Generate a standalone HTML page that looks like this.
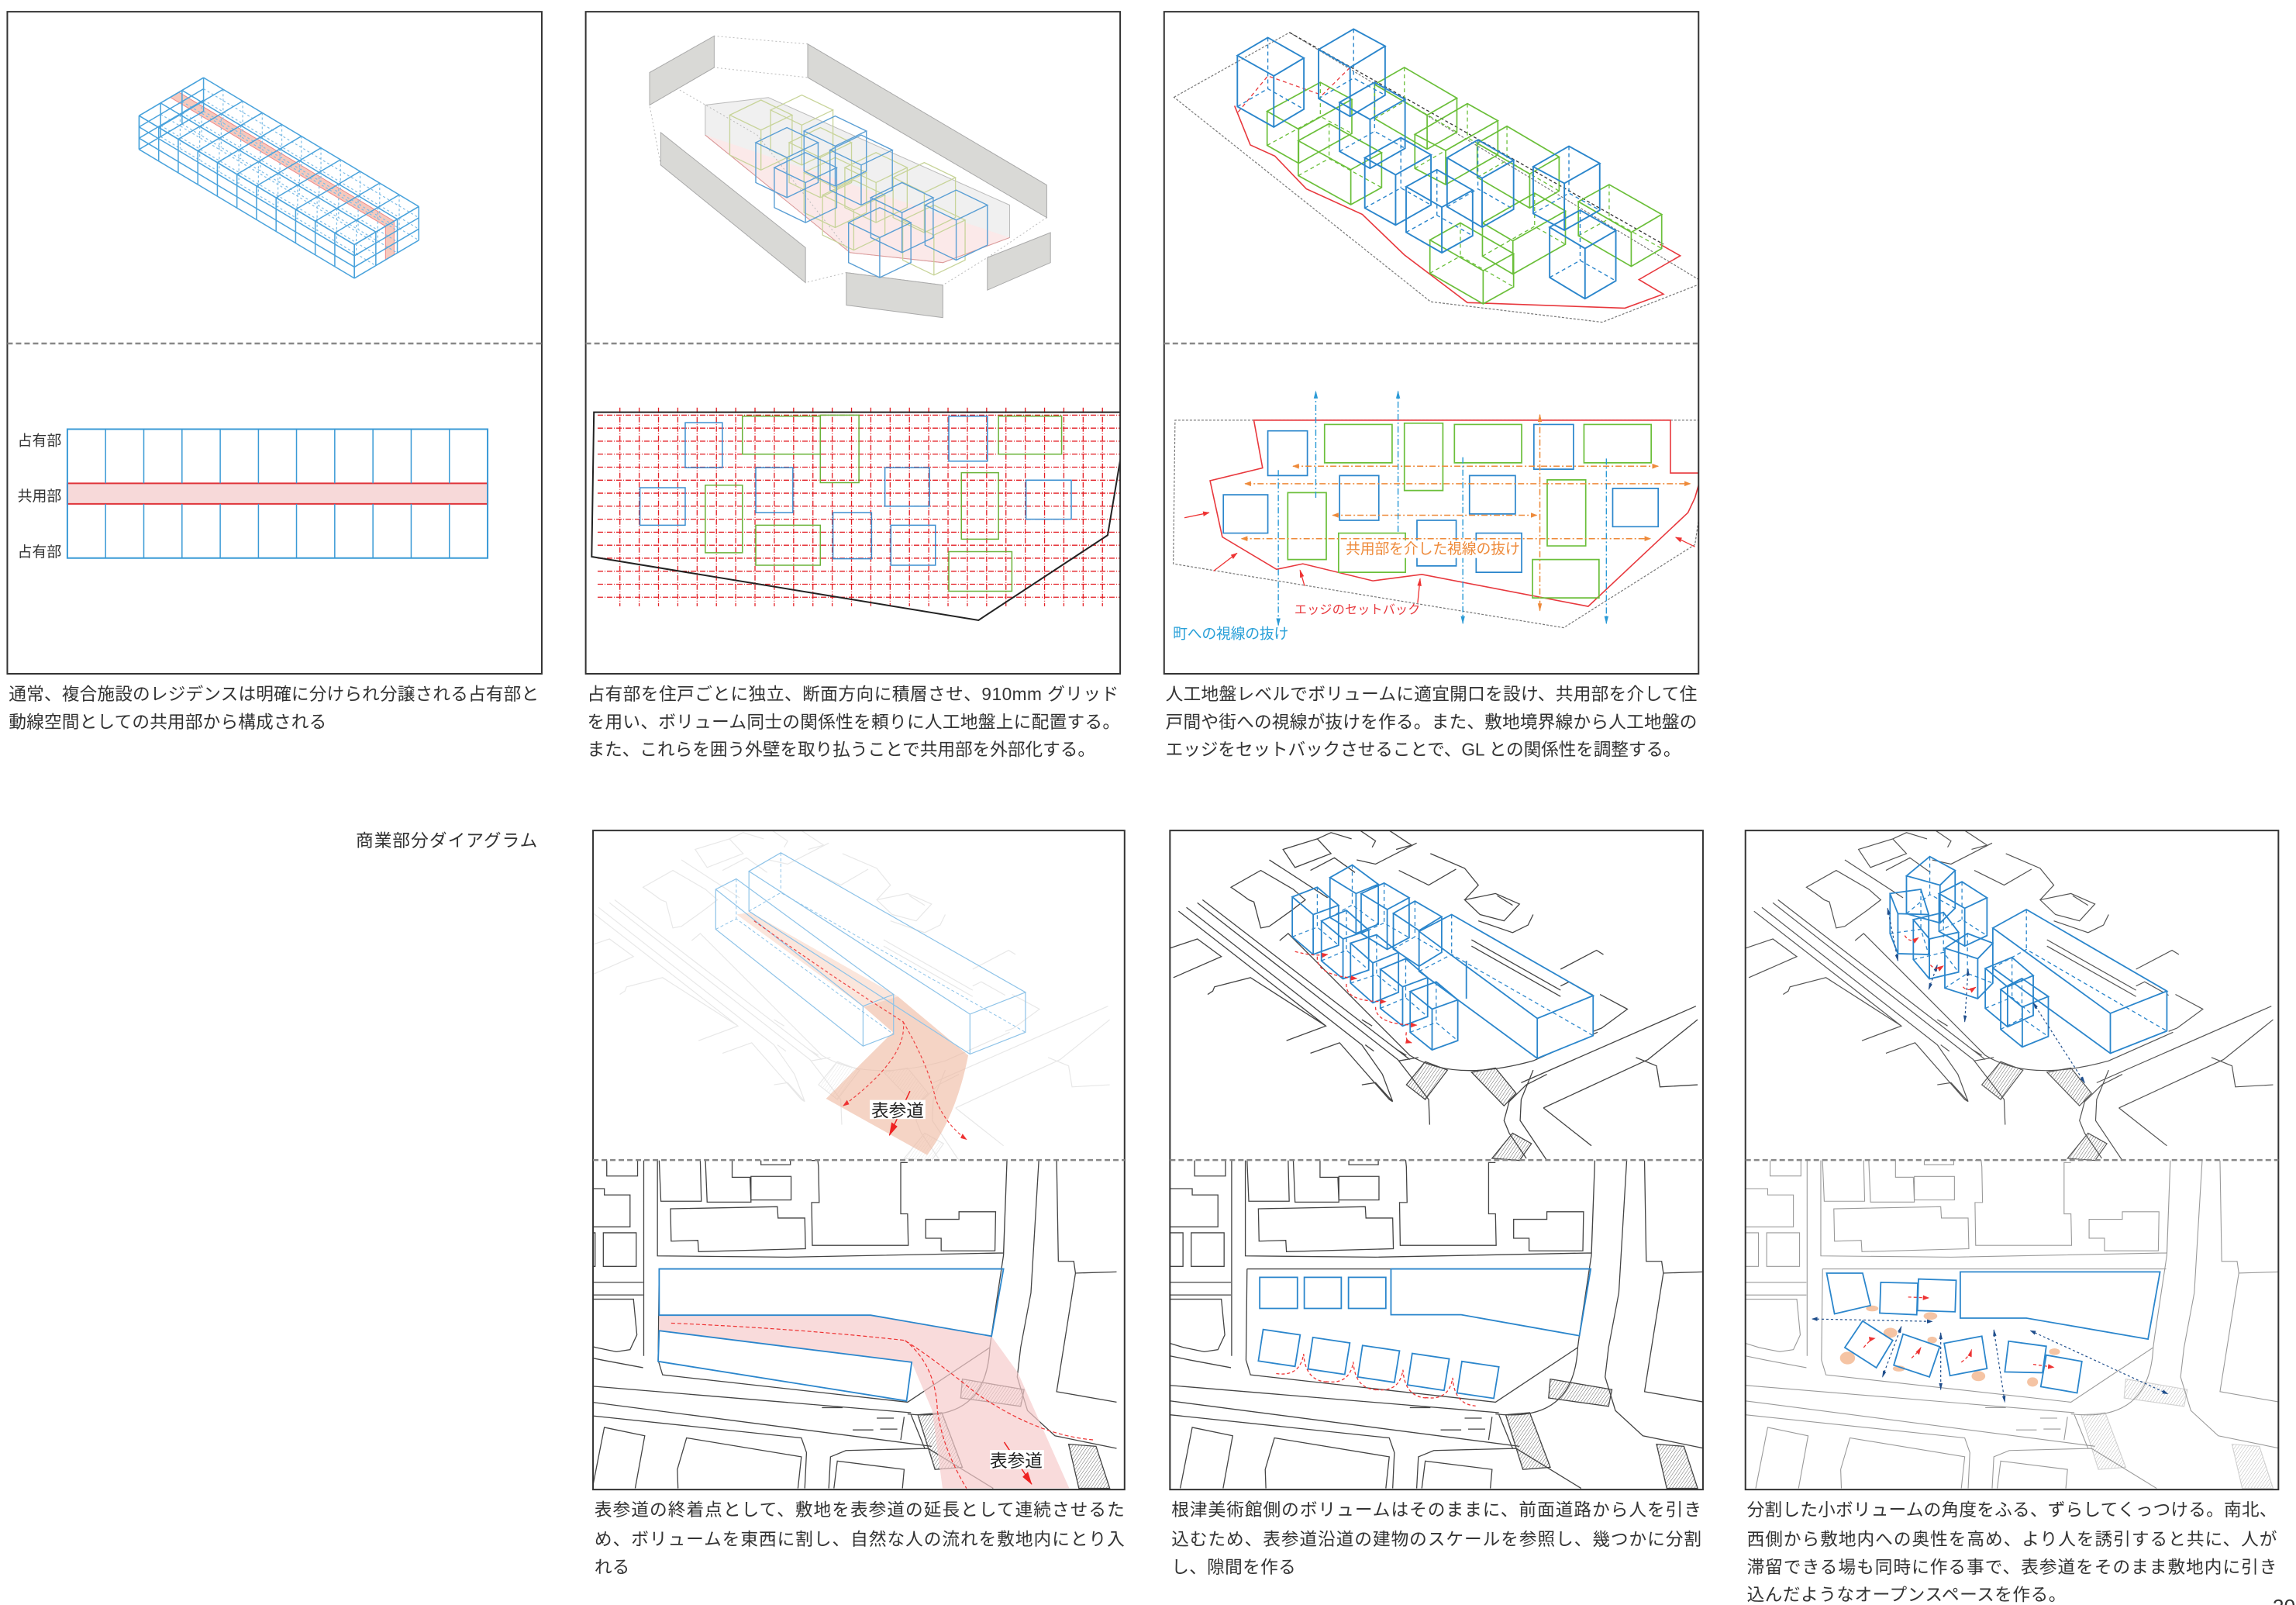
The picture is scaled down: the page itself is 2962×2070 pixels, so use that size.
<!DOCTYPE html>
<html><head><meta charset="utf-8">
<style>
html,body{margin:0;padding:0;background:#fff;}
svg{display:block;}
path,line,rect,ellipse,polygon{vector-effect:non-scaling-stroke;}
text{font-family:"Liberation Sans","Noto Sans CJK JP",sans-serif;}
</style></head>
<body>
<svg xmlns="http://www.w3.org/2000/svg" xmlns:xlink="http://www.w3.org/1999/xlink" width="2962" height="2070" viewBox="0 0 1568 1095.8" preserveAspectRatio="none">
<defs>
<pattern id="hatch" patternUnits="userSpaceOnUse" width="7" height="7" patternTransform="rotate(40)"><line x1="0" y1="0" x2="0" y2="7" stroke="#333" stroke-width="3"/></pattern>
<marker id="mO" markerUnits="userSpaceOnUse" markerWidth="20" markerHeight="20" refX="17" refY="10" orient="auto"><path d="M0,4 L19,10 L0,16Z" fill="#ee8a3a"/></marker>
<marker id="mOs" markerUnits="userSpaceOnUse" markerWidth="20" markerHeight="20" refX="2" refY="10" orient="auto"><path d="M19,4 L0,10 L19,16Z" fill="#ee8a3a"/></marker>
<marker id="mB" markerUnits="userSpaceOnUse" markerWidth="20" markerHeight="20" refX="17" refY="10" orient="auto"><path d="M0,4 L19,10 L0,16Z" fill="#2a9ad6"/></marker>
<marker id="mR" markerUnits="userSpaceOnUse" markerWidth="20" markerHeight="20" refX="17" refY="10" orient="auto"><path d="M0,4 L19,10 L0,16Z" fill="#e33"/></marker>
<marker id="mRb" markerUnits="userSpaceOnUse" markerWidth="34" markerHeight="34" refX="30" refY="17" orient="auto"><path d="M0,7 L32,17 L0,27Z" fill="#e22"/></marker>
<marker id="mD" markerUnits="userSpaceOnUse" markerWidth="18" markerHeight="18" refX="15" refY="9" orient="auto"><path d="M0,4 L17,9 L0,14Z" fill="#1f4e8c"/></marker>
<marker id="mDs" markerUnits="userSpaceOnUse" markerWidth="18" markerHeight="18" refX="2" refY="9" orient="auto"><path d="M17,4 L0,9 L17,14Z" fill="#1f4e8c"/></marker>
<clipPath id="c1"><rect x="5" y="8" width="365" height="452"/></clipPath>
<clipPath id="c2"><rect x="400" y="8" width="365" height="452"/></clipPath>
<clipPath id="c3"><rect x="795" y="8" width="365" height="452"/></clipPath>
<clipPath id="c4"><rect x="405" y="567" width="363" height="450"/></clipPath>
<clipPath id="c5"><rect x="799" y="567" width="364" height="450"/></clipPath>
<clipPath id="c6"><rect x="1192" y="567" width="364" height="450"/></clipPath>

<path id="planL" vector-effect="non-scaling-stroke" fill="none" d="M72,785L72,822L162,822L162,785M0,852L65,852L65,867L140,867L140,943L0,943M0,957L38,957L38,1037L0,1037M62,957L158,957L158,1037L62,1037ZM225,785L230,882L348,882L345,785M360,785L365,884L493,884L490,825L438,825L438,785M493,823L610,823L610,879L493,879ZM522,785L522,795L608,795L608,785M258,900L570,895L572,922L650,922L652,995L340,1002L338,975L260,977ZM670,785L688,785L690,800L692,885L670,885L672,987L952,987L950,912L930,912L930,790L950,790M1003,925L1100,925L1100,907L1207,907L1205,1000L1048,1000L1048,970L1003,970ZM220,785L220,1012L600,1015L1230,1005L1240,785M180,785L180,1250M0,1075L178,1075M0,1105L178,1105M0,1115L150,1115L160,1200L140,1235L100,1240L40,1230L0,1220M0,1250L60,1260L178,1278M225,1043L1228,1043M225,1043L222,1260L235,1295L950,1360L1190,1230M1333,785L1310,1100L1280,1230L1270,1300L1300,1380L1380,1440L1560,1470M1385,785L1390,1025L1435,1025L1440,1053L1560,1050M1440,1053L1385,1335L1560,1360M0,1320L960,1385M0,1357L1020,1465M0,1390L640,1445L655,1480L650,1565M720,1565L725,1490L770,1475L1010,1470L1200,1565M30,1565L65,1420L183,1440L155,1565M280,1565L278,1520L305,1445L640,1490L630,1565M735,1565L745,1500L940,1520L935,1565M940,1395L930,1450M960,1390L1000,1470M950,1388Q1180,1410 1190,1230M1240,785L1230,1010L1195,1200L1190,1230M700,1373l60,0M790,1426l60,0M860,1398l50,0M870,1424l50,0"/>
<path id="planH" fill="url(#hatch)" d="M1110,1305L1290,1330L1280,1370L1105,1350ZM980,1390L1050,1385L1110,1515L1030,1520ZM1420,1460L1500,1465L1540,1565L1450,1565Z"/>
<path id="isoL" vector-effect="non-scaling-stroke" fill="none" d="M0,280L80,258L150,300L10,350M110,390L125,382L130,372L235,350L455,465L340,500M25,192L455,465M48,183L560,510L620,580L650,645M80,172L665,545L755,640L758,700M95,165L700,545M178,135L265,95L360,140L395,165L355,190L290,228L265,232L245,170L230,165L205,150ZM290,70L460,160M330,45L430,20L470,55L365,88ZM410,95L480,65L540,100M430,20L470,5L530,20M555,0L600,25L590,40M640,0L705,35L660,45M668,95L755,130L835,92M720,30L600,80L545,70M760,55L860,90L900,130L860,165M860,165L950,150L1020,175L975,215L905,200ZM955,155L1000,178M900,215L1000,243L1045,225L1060,200M1140,330L1245,285L1265,295M1140,370L1165,360L1235,392M1255,390L1335,425L1260,470L1235,478M1025,600L1535,418M1090,660L1395,545L1540,450M1090,660L1230,750M1360,540L1420,560L1430,610L1540,605M1100,580L1040,605L990,645L975,690L990,720L1040,780M1060,570L1025,640L1022,690L1100,785M410,530L495,505L640,640L650,645M560,605L600,600L650,645M668,548L725,540M880,260L1140,380M880,275L1140,395M320,262L345,245L700,535Q830,600 1060,548L1248,480M560,450l30,15M660,520l30,15M570,510l25,15"/>
<path id="isoH" fill="url(#hatch)" d="M690,605L745,550L810,570L745,640ZM880,575L950,565L1010,625L975,655ZM940,780L1000,720L1055,745L1020,785Z"/>
</defs>

<!-- ========== Panel 1 ========== -->
<g clip-path="url(#c1)">
 <g transform="matrix(13.364,8,14.667,-8.667,95,79)"><rect x="0" y="1.45" width="11" height="0.4" fill="#f6c9bd" stroke="#e88" stroke-width="1"/></g>
 <g transform="matrix(14.667,-8.667,0,7.667,242,167)"><rect x="1.45" y="0" width="0.4" height="3" fill="#f6c9bd" stroke="#e88" stroke-width="1"/></g>
 <g fill="none" stroke="#7fbde6" stroke-width="1.2" stroke-dasharray="3,3">
  <path transform="matrix(13.364,8,0,7.667,139,53)" d="M0,0V3M1,0V3M2,0V3M3,0V3M4,0V3M5,0V3M6,0V3M7,0V3M8,0V3M9,0V3M10,0V3M11,0V3M0,0H11M0,1H11M0,2H11M0,3H11"/>
  <path transform="matrix(13.364,8,0,7.667,109.667,70.333)" d="M0,0V3M1,0V3M2,0V3M3,0V3M4,0V3M5,0V3M6,0V3M7,0V3M8,0V3M9,0V3M10,0V3M11,0V3M0,1H11M0,2H11M0,3H11"/>
  <path transform="matrix(13.364,8,0,7.667,124.333,61.667)" d="M0,0V3M1,0V3M2,0V3M3,0V3M4,0V3M5,0V3M6,0V3M7,0V3M8,0V3M9,0V3M10,0V3M11,0V3M0,1H11M0,2H11M0,3H11"/>
 </g>
 <g fill="none" stroke="#4aa3dc" stroke-width="1.5">
  <path transform="matrix(13.364,8,14.667,-8.667,95,79)" d="M0,0V3M1,0V3M2,0V3M3,0V3M4,0V3M5,0V3M6,0V3M7,0V3M8,0V3M9,0V3M10,0V3M11,0V3M0,0H11M0,1H11M0,2H11M0,3H11"/>
  <path transform="matrix(13.364,8,0,7.667,95,79)" d="M0,0V3M1,0V3M2,0V3M3,0V3M4,0V3M5,0V3M6,0V3M7,0V3M8,0V3M9,0V3M10,0V3M11,0V3M0,0H11M0,1H11M0,2H11M0,3H11"/>
  <path transform="matrix(14.667,-8.667,0,7.667,242,167)" d="M0,0V3M1,0V3M2,0V3M3,0V3M0,0H3M0,1H3M0,2H3M0,3H3"/>
  <path transform="matrix(14.667,-8.667,0,7.667,95,79)" d="M0,0V3M1,0V3M2,0V3M3,0V3M0,0H3M0,1H3M0,2H3M0,3H3"/>
 </g>
 <rect x="46" y="330" width="287" height="14" fill="#f7d9d9" stroke="#e0343a" stroke-width="2"/>
 <rect x="46" y="293" width="287" height="88" fill="none" stroke="#3a9ad6" stroke-width="2"/>
 <path fill="none" stroke="#3a9ad6" stroke-width="1.5" d="M72.1,293V330M98.2,293V330M124.3,293V330M150.4,293V330M176.5,293V330M202.5,293V330M228.6,293V330M254.7,293V330M280.8,293V330M306.9,293V330M72.1,344V381M98.2,344V381M124.3,344V381M150.4,344V381M176.5,344V381M202.5,344V381M228.6,344V381M254.7,344V381M280.8,344V381M306.9,344V381"/>
</g>

<!-- ========== Panel 2 ========== -->
<g clip-path="url(#c2)"><g transform="scale(0.507,0.3415)">
 <path d="M950,270L1145,505L1270,525L1360,475L1360,410L1035,195L950,210Z" fill="#f0f0f0" stroke="#bbb" stroke-width="1"/>
 <path d="M950,270L1145,505L1270,525L1360,475" fill="#fbe9e9" stroke="#d99" stroke-width="1"/>
 <path fill="none" stroke="#bbb" stroke-width="1" stroke-dasharray="2,3" d="M875,210L962,135L1088,155L1410,435L1330,515L1270,570L1140,545L1085,565L890,330L875,210M875,145L962,72L1088,88L1410,370M875,145L1020,270L1145,505"/>
 <g fill="#d9d9d6" stroke="#aaa" stroke-width="1">
  <path d="M875,145L962,72L962,135L875,210Z"/><path d="M1088,88L1410,370L1410,435L1088,155Z"/><path d="M890,265L1085,495L1085,565L890,330Z"/><path d="M1140,545L1270,570L1270,635L1140,610Z"/><path d="M1330,515L1415,465L1415,525L1330,580Z"/>
 </g>
 <path fill="none" stroke="#c8d49a" stroke-width="1.3" d="M983,230l42,-30l42,30l-42,30zv80l42,30l42,-30v-80m-42,30v80M1038,220l42,-30l42,30l-42,30zv80l42,30l42,-30v-80m-42,30v80M1063,285l42,-30l42,30l-42,30zv80l42,30l42,-30v-80m-42,30v80M1108,390l42,-30l42,30l-42,30zv80l42,30l42,-30v-80m-42,30v80M1138,335l42,-30l42,30l-42,30zv80l42,30l42,-30v-80m-42,30v80M1203,355l42,-30l42,30l-42,30zv80l42,30l42,-30v-80m-42,30v80M1216,440l42,-30l42,30l-42,30zv80l42,30l42,-30v-80m-42,30v80M1083,345l42,-30l42,30l-42,30zv80l42,30l42,-30v-80m-42,30v80"/>
 <path fill="none" stroke="#5b9fd4" stroke-width="1.4" d="M1018,285l42,-30l42,30l-42,30zv80l42,30l42,-30v-80m-42,30v80M1043,335l42,-30l42,30l-42,30zv80l42,30l42,-30v-80m-42,30v80M1083,262l42,-30l42,30l-42,30zv80l42,30l42,-30v-80m-42,30v80M1118,300l42,-30l42,30l-42,30zv80l42,30l42,-30v-80m-42,30v80M1143,445l42,-30l42,30l-42,30zv80l42,30l42,-30v-80m-42,30v80M1173,395l42,-30l42,30l-42,30zv80l42,30l42,-30v-80m-42,30v80M1246,410l42,-30l42,30l-42,30zv80l42,30l42,-30v-80m-42,30v80"/>
 <path fill="none" stroke="#e31e24" stroke-width="1.3" stroke-dasharray="7,2,1,2" d="M805,830H1510M805,856H1510M805,882H1510M805,908H1510M805,934H1510M805,960H1510M805,986H1510M805,1012H1510M805,1038H1510M805,1064H1510M805,1090H1510M805,1116H1510M805,1142H1510M805,1168H1510M805,1194H1510M835,815V1212M861,815V1212M887,815V1212M913,815V1212M939,815V1212M965,815V1212M991,815V1212M1017,815V1212M1043,815V1212M1069,815V1212M1095,815V1212M1121,815V1212M1147,815V1212M1173,815V1212M1199,815V1212M1225,815V1212M1251,815V1212M1277,815V1212M1303,815V1212M1329,815V1212M1355,815V1212M1381,815V1212M1407,815V1212M1433,815V1212M1459,815V1212M1485,815V1212"/>
 <g fill="none" stroke="#3b8fd0" stroke-width="1.5">
  <rect x="923" y="845" width="50" height="90"/><rect x="862" y="975" width="61" height="75"/><rect x="1018" y="935" width="50" height="90"/><rect x="1122" y="1025" width="52" height="92"/><rect x="1200" y="1050" width="60" height="80"/><rect x="1278" y="832" width="52" height="90"/><rect x="1382" y="960" width="61" height="78"/><rect x="1192" y="935" width="60" height="77"/>
 </g>
 <g fill="none" stroke="#6bb33a" stroke-width="1.5">
  <rect x="1000" y="832" width="105" height="76"/><rect x="1105" y="830" width="52" height="135"/><rect x="950" y="970" width="50" height="135"/><rect x="1018" y="1050" width="87" height="80"/><rect x="1295" y="945" width="50" height="133"/><rect x="1278" y="1103" width="85" height="79"/><rect x="1345" y="832" width="85" height="76"/>
 </g>
 <path fill="none" stroke="#222" stroke-width="2" d="M800,824L1510,824L1510,910L1492,1070L1318,1240L797,1113Z"/>
</g></g>

<!-- ========== Panel 3 ========== -->
<g clip-path="url(#c3)"><g transform="translate(794.1,5.3) scale(0.2391,0.2909)">
 <path fill="none" stroke="#777" stroke-width="1.2" stroke-dasharray="3,2" d="M32,210L362,58L1545,645L1255,738L765,690Z"/>
 <path fill="none" stroke="#e8383d" stroke-width="1.6" d="M205,230L250,322L320,348L410,425L570,485L690,580L870,692L1320,705L1430,672L1360,638L1478,582L1420,555"/>
 <path fill="none" stroke="#e8383d" stroke-width="1.3" stroke-dasharray="5,4" d="M215,245L300,160L455,205L535,140"/>
 <path fill="none" stroke="#333" stroke-width="1.3" stroke-dasharray="4,3" d="M362,58L1430,555"/>
 <path fill="none" stroke="#6bbf3a" stroke-width="1.7" d="M298,243L450,175L540,215L388,285ZM298,243v80l90,42l152,-70v-80M388,285v80M387,312L475,272L625,340L537,380ZM387,312v82l150,68l88,-40v-82M537,380v82M605,180L690,140L840,212L755,252ZM605,180v80l150,72l85,-40v-80M755,252v80M720,297L870,225L957,265L808,335ZM720,297v80l88,38l149,-70v-80M808,335v80M898,318L983,278L1132,350L1048,390ZM898,318v80l150,72l84,-40v-80M1048,390v80M763,545L850,505L1002,577L915,617ZM763,545v78l152,72l87,-40v-78M915,617v78M913,505L1062,435L1150,477L1000,547ZM913,505v78l87,42l150,-70v-78M1000,547v78M1187,455L1275,415L1425,485L1338,527ZM1187,455v80l151,72l87,-42v-80M1338,527v80"/>
 <path fill="none" stroke="#6bbf3a" stroke-width="1.3" stroke-dasharray="5,4" d="M298,323l152,-68l90,40M450,175v80M387,394l88,-40l150,68M475,272v82M605,260l85,-40l150,72M690,140v80M720,377l150,-72l87,40M870,225v80M898,398l85,-40l149,72M983,278v80M763,623l87,-40l152,72M850,505v78M913,583l149,-70l88,42M1062,435v78M1187,535l88,-40l150,70M1275,415v80"/>
 <path fill="none" stroke="#2b86cc" stroke-width="1.9" d="M213,112L300,70L403,118L317,160ZM213,112v120l104,48l86,-42v-120M317,160v120M445,98L545,50L635,90L535,140ZM445,98v115l90,42l100,-50v-115M535,140v115M505,222L605,175L692,215L592,262ZM505,222v115l87,40l100,-47v-115M592,262v115M577,352L680,305L766,345L665,392ZM577,352v118l88,40l101,-47v-118M665,392v118M695,420L783,380L885,428L797,468ZM695,420v107l102,48l88,-40v-107M797,468v107M812,352L900,310L1002,358L912,400ZM812,352v115l100,48l90,-42v-115M912,400v115M1058,373L1160,325L1248,365L1147,412ZM1058,373v110l89,39l101,-47v-110M1147,412v110M1105,515L1192,475L1294,523L1206,565ZM1105,515v118l101,50l88,-42v-118M1206,565v118"/>
 <path fill="none" stroke="#2b86cc" stroke-width="1.4" stroke-dasharray="5,4" d="M213,232l87,-42l103,48M300,70v120M445,213l100,-48l90,40M545,50v115M505,337l100,-47l87,40M605,175v115M577,470l103,-47l86,40M680,305v118M695,527l88,-40l102,48M783,380v107M812,467l88,-42l102,48M900,310v115M1058,483l102,-48l88,40M1160,325v110M1105,633l87,-40l102,48M1192,475v118"/>
 <path fill="none" stroke="#777" stroke-width="1.2" stroke-dasharray="3,2" d="M1545,968L35,968L30,1305L1145,1455L1520,1260L1545,1120"/>
 <path fill="none" stroke="#e8383d" stroke-width="1.6" d="M260,968L1450,968L1450,1092L1540,1092L1520,1150L1500,1185L1215,1405L740,1330L600,1345L400,1305L325,1318L170,1242L135,1110L285,1080Z"/>
 <g fill="none" stroke="#2b86cc" stroke-width="1.7">
  <rect x="300" y="993" width="113" height="105"/><rect x="505" y="1098" width="112" height="105"/><rect x="173" y="1143" width="127" height="90"/><rect x="876" y="1098" width="131" height="90"/><rect x="726" y="1203" width="112" height="107"/><rect x="895" y="1233" width="130" height="92"/><rect x="1060" y="978" width="113" height="105"/><rect x="1285" y="1128" width="130" height="90"/>
 </g>
 <g fill="none" stroke="#6bbf3a" stroke-width="1.7">
  <rect x="462" y="978" width="193" height="90"/><rect x="690" y="975" width="110" height="158"/><rect x="833" y="978" width="192" height="90"/><rect x="1203" y="978" width="192" height="90"/><rect x="357" y="1138" width="110" height="157"/><rect x="502" y="1233" width="191" height="92"/><rect x="1098" y="1108" width="110" height="155"/><rect x="1056" y="1295" width="190" height="90"/>
 </g>
 <g stroke="#ee8a3a" stroke-width="1.5" stroke-dasharray="8,3,2,3" marker-end="url(#mO)" marker-start="url(#mOs)">
  <line x1="372" y1="1076" x2="1415" y2="1076"/><line x1="235" y1="1117" x2="1507" y2="1117"/><line x1="485" y1="1191" x2="1068" y2="1191"/><line x1="225" y1="1246" x2="1393" y2="1246"/><line x1="1077" y1="955" x2="1077" y2="1415"/>
 </g>
 <g stroke="#2a9ad6" stroke-width="1.4" stroke-dasharray="8,3,2,3" marker-end="url(#mB)">
  <line x1="437" y1="1150" x2="437" y2="900"/><line x1="672" y1="1230" x2="672" y2="900"/><line x1="330" y1="1085" x2="330" y2="1450"/><line x1="857" y1="1055" x2="857" y2="1445"/><line x1="1267" y1="1058" x2="1267" y2="1445"/>
 </g>
 <g stroke="#e33" stroke-width="1.3" marker-end="url(#mR)">
  <line x1="62" y1="1197" x2="132" y2="1185"/><line x1="145" y1="1322" x2="212" y2="1280"/><line x1="405" y1="1357" x2="392" y2="1320"/><line x1="728" y1="1397" x2="735" y2="1340"/><line x1="1520" y1="1265" x2="1465" y2="1243"/>
 </g>
</g></g>

<!-- ========== Panel 4 ========== -->
<g clip-path="url(#c4)"><g transform="translate(405,567) scale(0.234,0.287)">
 <g transform="translate(-32,0)">
  <g opacity="0.15" stroke="#666" stroke-width="1.2"><use xlink:href="#isoL"/><use xlink:href="#isoH"/></g>
  <g stroke="#444" stroke-width="1.3"><use xlink:href="#planL"/><use xlink:href="#planH"/></g>
 </g>
 <path d="M420,200L460,195L890,395L1095,535Q1060,680 975,772L680,638Q800,540 875,480L790,420Z" fill="#efb89e" fill-opacity="0.6"/>
 <path d="M420,200L460,195L890,395L790,420Z" fill="#fbe6dc"/>
 <path fill="none" stroke="#8ec3e8" stroke-width="1.2" d="M455,97L548,53L1262,385L1100,437ZM455,97v95l645,340l162,-52v-95M1100,437v95M358,140L418,115L877,390L788,418ZM358,140v95l430,278l89,-28v-95M788,418v95"/>
 <path fill="none" stroke="#8ec3e8" stroke-width="1" stroke-dasharray="4,3" d="M455,192l93,-44l714,332M548,53v95M358,235l60,-25l459,275M418,115v95"/>
 <path d="M470,215Q700,350 905,455Q920,540 730,655" fill="none" stroke="#e44" stroke-width="1.2" stroke-dasharray="4,3" marker-end="url(#mR)"/>
 <path d="M905,455Q980,560 1000,640Q1030,700 1090,735" fill="none" stroke="#e44" stroke-width="1.2" stroke-dasharray="4,3" marker-end="url(#mR)"/>
 <line x1="925" y1="620" x2="865" y2="725" stroke="#e22" stroke-width="1.5" marker-end="url(#mRb)"/>
 <path d="M193,1153L810,1153L1163,1203L1240,1290L1390,1565L1020,1565L990,1380L930,1265L193,1190Z" fill="#f6cccc" fill-opacity="0.7"/>
 <path fill="none" stroke="#2b86cc" stroke-width="1.8" d="M193,1043L1198,1043L1163,1203L810,1153L193,1153ZM193,1190L930,1265L915,1357L190,1263Z"/>
 <path d="M228,1172Q600,1185 910,1213Q1000,1260 1120,1340Q1300,1440 1465,1450" fill="none" stroke="#e33" stroke-width="1.2" stroke-dasharray="5,3"/>
 <path d="M910,1213Q1000,1270 1005,1380Q1020,1470 1090,1565" fill="none" stroke="#e33" stroke-width="1.2" stroke-dasharray="5,3"/>
 <line x1="1200" y1="1455" x2="1280" y2="1555" stroke="#e22" stroke-width="1.5" marker-end="url(#mRb)"/>
</g></g>

<!-- ========== Panel 5 ========== -->
<g clip-path="url(#c5)"><g transform="translate(799,567) scale(0.234,0.287)">
 <g stroke="#444" stroke-width="1.3"><use xlink:href="#isoL"/><use xlink:href="#isoH"/><use xlink:href="#planL"/><use xlink:href="#planH"/></g>
 <path d="M727,240L822,200L1235,393L1072,447L1072,542L1235,490L1235,393L822,200L727,240L727,335L1072,542Z" fill="#fff"/>
 <path fill="none" stroke="#2b86cc" stroke-width="1.8" d="M727,240L822,200L1235,393L1072,447ZM727,240v95l345,207l163,-54v-95M1072,447v95M865,310v90M357,158L430,135L492,178L418,200ZM357,158v95l61,42l74,-22v-95M418,200v95M467,112L532,82L608,128L543,150ZM467,112v95l76,38l65,-22v-95M543,150v95M558,150L625,125L698,160L634,188ZM558,150v95l76,38l64,-28v-95M634,188v95M652,197L715,168L793,205L727,238ZM652,197v85l75,41l66,-33v-85M727,238v85M442,215L515,190L580,237L505,258ZM442,215v95l63,43l75,-21v-95M505,258v95M527,268L603,248L667,290L592,315ZM527,268v95l65,47l75,-25v-95M592,315v95M614,330L688,305L752,350L679,372ZM614,330v93l65,42l73,-22v-93M679,372v93M701,383L777,360L840,403L765,425ZM701,383v97l64,42l75,-22v-97M765,425v97"/>
 <path fill="none" stroke="#2b86cc" stroke-width="1.3" stroke-dasharray="5,4" d="M727,335l95,-40l413,193M822,200v95M357,253l73,-23l62,43M430,135v95M467,207l65,-30l76,46M532,82v95M558,245l67,-25l73,35M625,125v95M652,282l63,-29l78,37M715,168v85M442,310l73,-25l65,47M515,190v95M527,363l76,-20l64,42M603,248v95M614,423l74,-25l64,45M688,305v93M701,480l76,-23l63,43M777,360v97"/>
 <g fill="none" stroke="#e33" stroke-width="1.3" stroke-dasharray="4,3" marker-end="url(#mR)">
  <path d="M365,288Q420,300 460,295"/><path d="M430,300Q425,345 545,352"/><path d="M515,365Q510,408 630,407"/><path d="M600,420Q600,462 720,463"/><path d="M690,480Q685,500 705,505"/>
 </g>
 <path fill="none" stroke="#2b86cc" stroke-width="1.8" d="M262,1063H372V1137H262ZM392,1063H500V1137H392ZM521,1063H630V1137H521ZM645,1043L1228,1043L1195,1202L850,1152L645,1152ZM272,1187L380,1200L365,1275L258,1262ZM417,1206L525,1219L510,1294L403,1281ZM562,1225L670,1238L655,1313L548,1300ZM707,1244L815,1257L800,1332L693,1319ZM852,1263L960,1276L945,1351L838,1338Z"/>
 <path fill="none" stroke="#e33" stroke-width="1.3" stroke-dasharray="4,3" d="M310,1292Q380,1300 390,1245Q395,1310 460,1312M455,1311Q525,1319 535,1264Q540,1329 605,1331M600,1330Q670,1338 680,1283Q685,1348 750,1350M745,1349Q815,1357 825,1302Q830,1367 895,1369"/>
</g></g>

<!-- ========== Panel 6 ========== -->
<g clip-path="url(#c6)"><g transform="translate(1192,567) scale(0.234,0.287)">
 <g stroke="#555" stroke-width="1.2"><use xlink:href="#isoL"/><use xlink:href="#isoH"/></g>
 <g stroke="#9a9a9a" stroke-width="1.1"><use xlink:href="#planL"/><use xlink:href="#planH" opacity="0.45"/></g>
 <path d="M722,232L820,188L1230,382L1065,435L1065,530L1230,477L1230,382L820,188L722,232L722,327L1065,530Z" fill="#fff"/>
 <path fill="none" stroke="#2b86cc" stroke-width="1.8" d="M722,232L820,188L1230,382L1065,435ZM722,232v95l343,203l165,-53v-95M1065,435v95M470,108L538,62L612,95L568,130ZM470,108v90l98,22l44,-35v-90M568,130v90M422,150L512,140L535,200L445,198ZM422,150v95l23,48l90,2v-95M445,198v95M565,150L632,122L705,160L640,185ZM565,150v90l75,35l65,-25v-90M640,185v90M490,212L578,195L622,242L537,258ZM490,212v95l47,46l85,-16v-95M537,258v95M582,280L648,245L722,268L678,305ZM582,280v95l96,25l44,-37v-95M678,305v95M700,328L778,302L840,345L765,372ZM700,328v95l65,44l75,-27v-95M765,372v95M745,378L807,352L884,395L808,420ZM745,378v95l63,42l76,-25v-95M808,420v95"/>
 <path fill="none" stroke="#2b86cc" stroke-width="1.3" stroke-dasharray="5,4" d="M722,327l98,-44l410,194M820,188v95M470,198l68,-46l74,33M538,62v90M422,245l90,-10l23,60M512,140v95M565,240l67,-28l73,38M632,122v90M490,307l88,-17l44,47M578,195v95M582,375l66,-35l74,23M648,245v95M700,423l78,-26l62,43M778,302v95M745,473l62,-26l77,43M807,352v95"/>
 <g stroke="#1f4e8c" stroke-width="1.2" stroke-dasharray="3,3" marker-end="url(#mD)" marker-start="url(#mDs)">
  <line x1="415" y1="185" x2="445" y2="310"/><line x1="560" y1="320" x2="535" y2="378"/><line x1="650" y1="330" x2="640" y2="455"/><line x1="840" y1="410" x2="990" y2="600"/>
  <line x1="195" y1="1162" x2="545" y2="1168"/><line x1="455" y1="1180" x2="400" y2="1300"/><line x1="570" y1="1195" x2="570" y2="1330"/><line x1="725" y1="1188" x2="757" y2="1360"/><line x1="832" y1="1190" x2="1232" y2="1340"/>
 </g>
 <g fill="none" stroke="#e33" stroke-width="1.3" stroke-dasharray="4,3" marker-end="url(#mR)">
  <path d="M465,250Q480,270 505,255"/><path d="M540,320Q555,335 578,322"/><path d="M635,372Q650,385 672,373"/>
  <path d="M345,1230Q365,1210 378,1208"/><path d="M485,1255Q505,1240 512,1230"/><path d="M630,1265Q655,1250 660,1235"/>
  <line x1="475" y1="1110" x2="535" y2="1112"/><line x1="840" y1="1270" x2="900" y2="1277"/>
 </g>
 <g fill="#f5c4a4">
  <ellipse cx="370" cy="1137" rx="18" ry="7"/><ellipse cx="540" cy="1155" rx="20" ry="9"/><ellipse cx="423" cy="1195" rx="20" ry="12"/><ellipse cx="545" cy="1212" rx="14" ry="8"/><ellipse cx="298" cy="1255" rx="22" ry="15"/><ellipse cx="448" cy="1280" rx="18" ry="7"/><ellipse cx="680" cy="1298" rx="20" ry="12"/><ellipse cx="838" cy="1312" rx="16" ry="11"/><ellipse cx="902" cy="1240" rx="16" ry="8"/>
 </g>
 <path fill="none" stroke="#2b86cc" stroke-width="1.8" d="M237,1053L342,1053L365,1130L260,1150ZM395,1075L503,1077L500,1152L392,1148ZM505,1067L615,1070L612,1145L502,1142ZM627,1050L1210,1050L1175,1210L820,1160L627,1160ZM342,1167L430,1213L382,1278L290,1230ZM460,1198L567,1228L537,1300L433,1272ZM580,1220L690,1203L705,1280L597,1297ZM768,1215L878,1227L867,1290L757,1288ZM878,1248L982,1263L968,1338L862,1323Z"/>
</g></g>

<!-- panel frames -->
<g fill="none" stroke="#333" stroke-width="2">
<rect x="5" y="8" width="365" height="452"/>
<rect x="400" y="8" width="365" height="452"/>
<rect x="795" y="8" width="365" height="452"/>
<rect x="405" y="567" width="363" height="450"/>
<rect x="799" y="567" width="364" height="450"/>
<rect x="1192" y="567" width="364" height="450"/>
</g>
<g stroke="#888" stroke-width="2.5" stroke-dasharray="7,4">
<line x1="5" y1="234.5" x2="370" y2="234.5"/>
<line x1="400" y1="234.5" x2="765" y2="234.5"/>
<line x1="795" y1="234.5" x2="1160" y2="234.5"/>
<line x1="405" y1="792" x2="768" y2="792"/>
<line x1="799" y1="792" x2="1163" y2="792"/>
<line x1="1192" y1="792" x2="1556" y2="792"/>
</g>

<!-- labels -->
<g font-size="10" fill="#333">
<text x="12" y="304">占有部</text>
<text x="12" y="342">共用部</text>
<text x="12" y="380">占有部</text>
</g>
<rect x="918" y="369" width="120" height="12" fill="#fff"/>
<text x="919" y="378" font-size="10" fill="#ee8a3a" textLength="119" lengthAdjust="spacing">共用部を介した視線の抜け</text>
<text x="884" y="419" font-size="8.5" fill="#e8383d" textLength="86" lengthAdjust="spacing">エッジのセットバック</text>
<text x="801" y="436" font-size="10" fill="#29a0d8" textLength="79" lengthAdjust="spacing">町への視線の抜け</text>

<rect x="594" y="751" width="38" height="13" fill="#fff"/>
<text x="595" y="762.5" font-size="12" fill="#222">表参道</text>
<rect x="676" y="990" width="37" height="13" fill="#fff"/>
<text x="676" y="1001.5" font-size="12" fill="#222">表参道</text>

<!-- captions -->
<g font-size="12" fill="#333">
<text x="6" y="478" textLength="362" lengthAdjust="spacing">通常、複合施設のレジデンスは明確に分けられ分譲される占有部と</text>
<text x="6" y="497" textLength="217" lengthAdjust="spacing">動線空間としての共用部から構成される</text>
<text x="401" y="478" textLength="363" lengthAdjust="spacing">占有部を住戸ごとに独立、断面方向に積層させ、910mm グリッド</text>
<text x="401" y="497" textLength="364" lengthAdjust="spacing">を用い、ボリューム同士の関係性を頼りに人工地盤上に配置する。</text>
<text x="401" y="516" textLength="347" lengthAdjust="spacing">また、これらを囲う外壁を取り払うことで共用部を外部化する。</text>
<text x="796" y="478" textLength="363" lengthAdjust="spacing">人工地盤レベルでボリュームに適宜開口を設け、共用部を介して住</text>
<text x="796" y="497" textLength="363" lengthAdjust="spacing">戸間や街への視線が抜けを作る。また、敷地境界線から人工地盤の</text>
<text x="796" y="516" textLength="352" lengthAdjust="spacing">エッジをセットバックさせることで、GL との関係性を調整する。</text>
<text x="243" y="578" textLength="124" lengthAdjust="spacing">商業部分ダイアグラム</text>
<text x="406" y="1035" textLength="362" lengthAdjust="spacing">表参道の終着点として、敷地を表参道の延長として連続させるた</text>
<text x="406" y="1055" textLength="362" lengthAdjust="spacing">め、ボリュームを東西に割し、自然な人の流れを敷地内にとり入</text>
<text x="406" y="1074" textLength="24" lengthAdjust="spacing">れる</text>
<text x="800" y="1035" textLength="362" lengthAdjust="spacing">根津美術館側のボリュームはそのままに、前面道路から人を引き</text>
<text x="800" y="1055" textLength="362" lengthAdjust="spacing">込むため、表参道沿道の建物のスケールを参照し、幾つかに分割</text>
<text x="800" y="1074" textLength="85" lengthAdjust="spacing">し、隙間を作る</text>
<text x="1193" y="1035" textLength="362" lengthAdjust="spacing">分割した小ボリュームの角度をふる、ずらしてくっつける。南北、</text>
<text x="1193" y="1055" textLength="362" lengthAdjust="spacing">西側から敷地内への奥性を高め、より人を誘引すると共に、人が</text>
<text x="1193" y="1074" textLength="362" lengthAdjust="spacing">滞留できる場も同時に作る事で、表参道をそのまま敷地内に引き</text>
<text x="1193" y="1093" textLength="218" lengthAdjust="spacing">込んだようなオープンスペースを作る。</text>
<text x="1552" y="1102" font-size="14">20</text>
</g>
</svg>
</body></html>
